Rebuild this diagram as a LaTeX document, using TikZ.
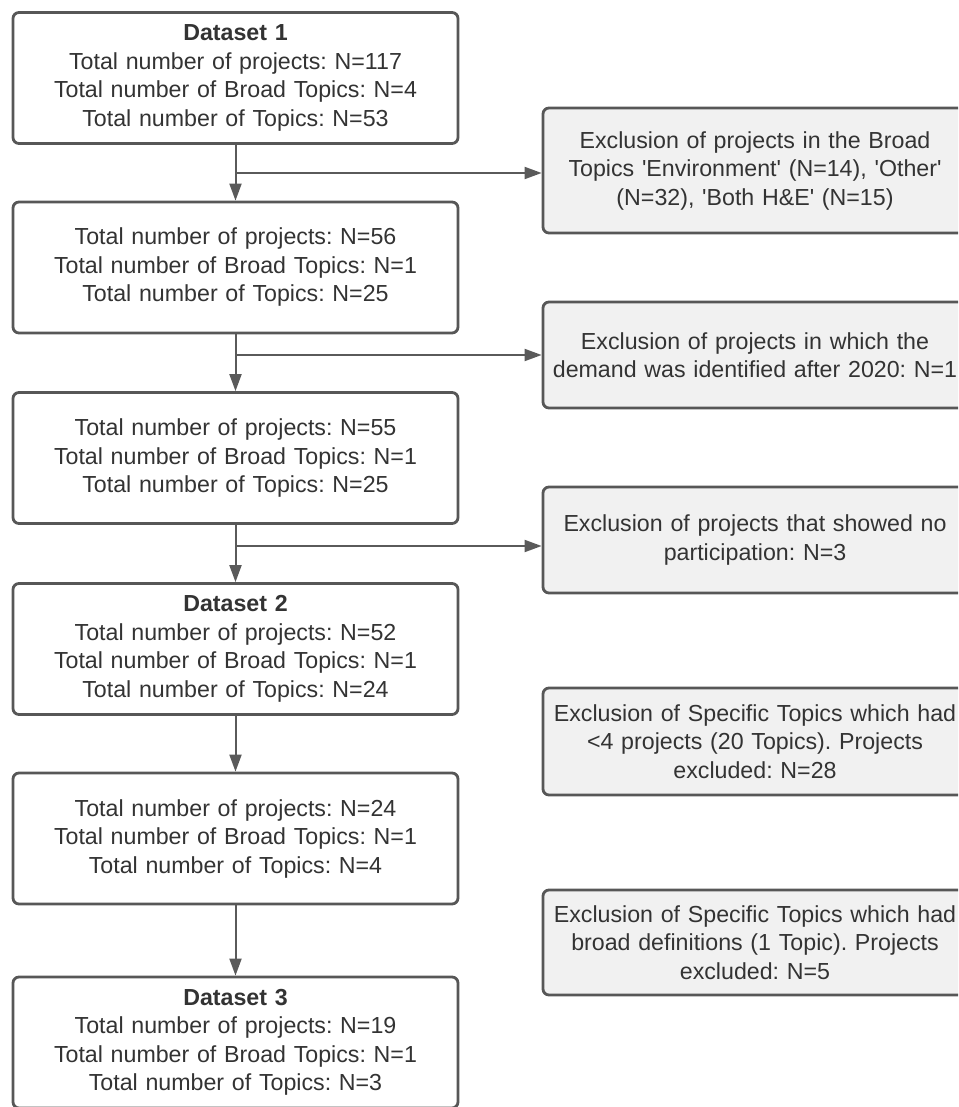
\documentclass[tikz,border=0pt]{standalone}
\usepackage{fontspec}
\setmainfont{Liberation Sans}
\usetikzlibrary{arrows.meta,calc}
\frenchspacing
\definecolor{bordc}{HTML}{575757}
\definecolor{txtc}{HTML}{333333}
\definecolor{arrc}{HTML}{5A5A5A}
\definecolor{exfill}{HTML}{F1F1F1}
\newcommand{\sq}{\textquotesingle}
\tikzset{
  x=1pt,y=1pt,
  mainbox/.style={draw=bordc, line width=2.8pt, rounded corners=6pt, fill=white,
    minimum width=445pt, minimum height=131pt, text width=440pt, align=center,
    text=txtc, font=\fontsize{23.2}{28.5}\selectfont, inner sep=0pt},
  exbox/.style={draw=bordc, line width=2.8pt, rounded corners=6pt, fill=exfill,
    minimum width=424pt, text width=415pt, align=center,
    text=txtc, font=\fontsize{23.2}{28.5}\selectfont, inner sep=0pt},
  conn/.style={draw=arrc, line width=2pt, -{Triangle[length=17pt,width=12pt]}}
}
\begin{document}
\begin{tikzpicture}
\useasboundingbox (0,0) rectangle (958,-1107);
\clip (0,0) rectangle (958,-1107);
% main boxes
\node[mainbox] (n1) at (235.5,-78) {\textbf{Dataset 1}\\Total number of projects: N=117\\Total number of Broad Topics: N=4\\Total number of Topics: N=53};
\node[mainbox] (n2) at (235.5,-267.5) {Total number of projects: N=56\\Total number of Broad Topics: N=1\\Total number of Topics: N=25};
\node[mainbox] (n3) at (235.5,-458) {Total number of projects: N=55\\Total number of Broad Topics: N=1\\Total number of Topics: N=25};
\node[mainbox] (n4) at (235.5,-649) {\textbf{Dataset 2}\\Total number of projects: N=52\\Total number of Broad Topics: N=1\\Total number of Topics: N=24};
\node[mainbox] (n5) at (235.5,-838.5) {Total number of projects: N=24\\Total number of Broad Topics: N=1\\Total number of Topics: N=4};
\node[mainbox] (n6) at (235.5,-1042.5) {\textbf{Dataset 3}\\Total number of projects: N=19\\Total number of Broad Topics: N=1\\Total number of Topics: N=3};
% exclusion boxes
\node[exbox, minimum height=125pt] (e1) at (755,-170.5) {Exclusion of projects in the Broad\\Topics \sq Environment\sq\ (N=14), \sq Other\sq\\(N=32), \sq Both H\&E\sq\ (N=15)};
\node[exbox, minimum height=106pt] (e2) at (755,-355) {Exclusion of projects in which the\\demand was identified after 2020: N=1};
\node[exbox, minimum height=106pt] (e3) at (755,-540) {Exclusion of projects that showed no\\participation: N=3};
\node[exbox, minimum height=107pt] (e4) at (755,-741.5) {Exclusion of Specific Topics which had\\<4 projects (20 Topics). Projects\\excluded: N=28};
\node[exbox, minimum height=105pt] (e5) at (755,-942.5) {Exclusion of Specific Topics which had\\broad definitions (1 Topic). Projects\\excluded: N=5};
% connectors
\coordinate (b1) at (235.5,-173);
\coordinate (b2) at (235.5,-355);
\coordinate (b3) at (235.5,-546);
\draw[conn] (n1.south) -- (n2.north);
\draw[conn] (b1) -- (b1 -| e1.west);
\draw[conn] (n2.south) -- (n3.north);
\draw[conn] (b2) -- (b2 -| e2.west);
\draw[conn] (n3.south) -- (n4.north);
\draw[conn] (b3) -- (b3 -| e3.west);
\draw[conn] (n4.south) -- (n5.north);
\draw[conn] (n5.south) -- (n6.north);
\end{tikzpicture}
\end{document}
